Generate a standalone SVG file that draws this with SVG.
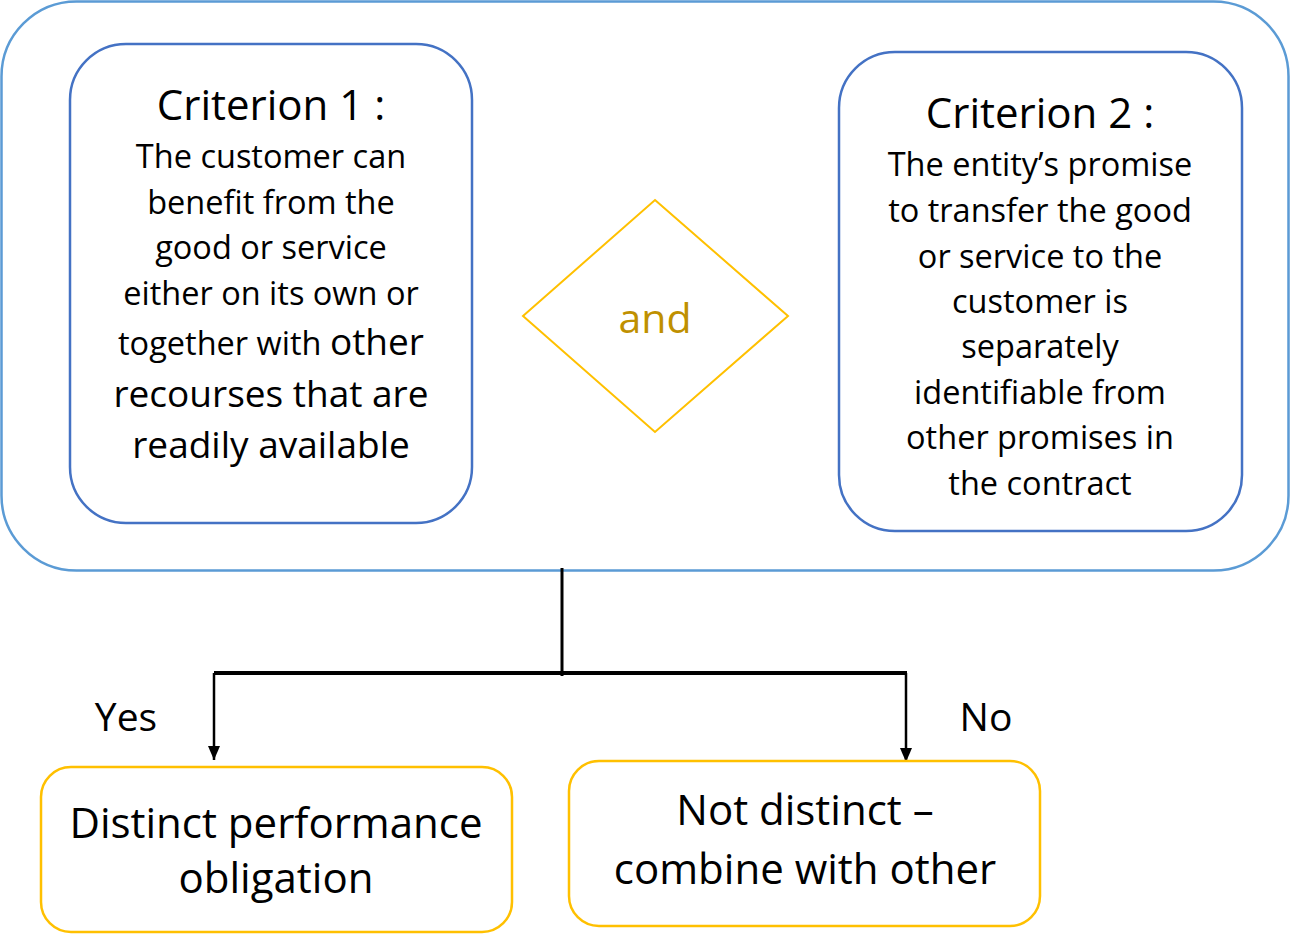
<svg xmlns="http://www.w3.org/2000/svg" width="1291" height="934" viewBox="0 0 1291 934">
<style>
text{font-family:"Open Sans","Liberation Sans",sans-serif;fill:#000;text-anchor:middle}
.body{font-size:32.5px}
.big{font-size:37px}
.title{font-size:42px}
.lbl{font-size:39px}
.out{font-size:42px}
.crit{fill:#fff;stroke:#4472C4;stroke-width:2.5}
.res{fill:#fff;stroke:#FFC000;stroke-width:2.5}
.conn{stroke:#000;fill:none}
</style>
<defs>
<marker id="arr" markerWidth="14" markerHeight="12" refX="14" refY="6" orient="auto" markerUnits="userSpaceOnUse" viewBox="0 0 14 12">
<path d="M0,0 L14,6 L0,12 Z" fill="#000"/>
</marker>
</defs>
<g id="outer"><rect x="1.5" y="1.5" width="1287" height="569" rx="75" fill="#fff" stroke="#5B9BD5" stroke-width="2.5"/></g>
<g id="criterion1">
<rect class="crit" x="70" y="44" width="402" height="479" rx="56"/>
<text class="title" x="271" y="120">Criterion 1 :</text>
<text class="body" x="271" y="168">The customer can</text>
<text class="body" x="271" y="214">benefit from the</text>
<text class="body" x="271" y="259">good or service</text>
<text class="body" x="271" y="305">either on its own or</text>
<text x="271" y="355"><tspan class="body">together with </tspan><tspan class="big">other</tspan></text>
<text class="big" x="271" y="407">recourses that are</text>
<text class="big" x="271" y="458">readily available</text>
</g>
<g id="and">
<polygon points="655,200 788,316 655,432 523,316" fill="#fff" stroke="#FFC000" stroke-width="2"/>
<text x="655" y="333" style="font-size:41px;fill:#BF9000">and</text>
</g>
<g id="criterion2">
<rect class="crit" x="839" y="52" width="403" height="479" rx="56"/>
<text class="title" x="1040" y="128">Criterion 2 :</text>
<text class="body" x="1040" y="176">The entity’s promise</text>
<text class="body" x="1040" y="222">to transfer the good</text>
<text class="body" x="1040" y="268">or service to the</text>
<text class="body" x="1040" y="313">customer is</text>
<text class="body" x="1040" y="358">separately</text>
<text class="body" x="1040" y="404">identifiable from</text>
<text class="body" x="1040" y="449">other promises in</text>
<text class="body" x="1040" y="495">the contract</text>
</g>
<g id="connectors">
<line class="conn" x1="562" y1="568" x2="562" y2="676" stroke-width="3"/>
<line class="conn" x1="214" y1="673" x2="907" y2="673" stroke-width="4"/>
<line class="conn" x1="214" y1="673" x2="214" y2="760" stroke-width="2.5" marker-end="url(#arr)"/>
<line class="conn" x1="906" y1="673" x2="906" y2="762" stroke-width="2.5" marker-end="url(#arr)"/>
<text class="lbl" x="126" y="731">Yes</text>
<text class="lbl" x="986" y="731">No</text>
</g>
<g id="distinct">
<rect class="res" x="41" y="767" width="471" height="165" rx="30"/>
<text class="out" x="276" y="838">Distinct performance</text>
<text class="out" x="276" y="893">obligation</text>
</g>
<g id="notdistinct">
<rect class="res" x="569" y="761" width="471" height="165" rx="30"/>
<text class="out" x="805" y="825">Not distinct –</text>
<text class="out" x="805" y="884">combine with other</text>
</g>
</svg>
